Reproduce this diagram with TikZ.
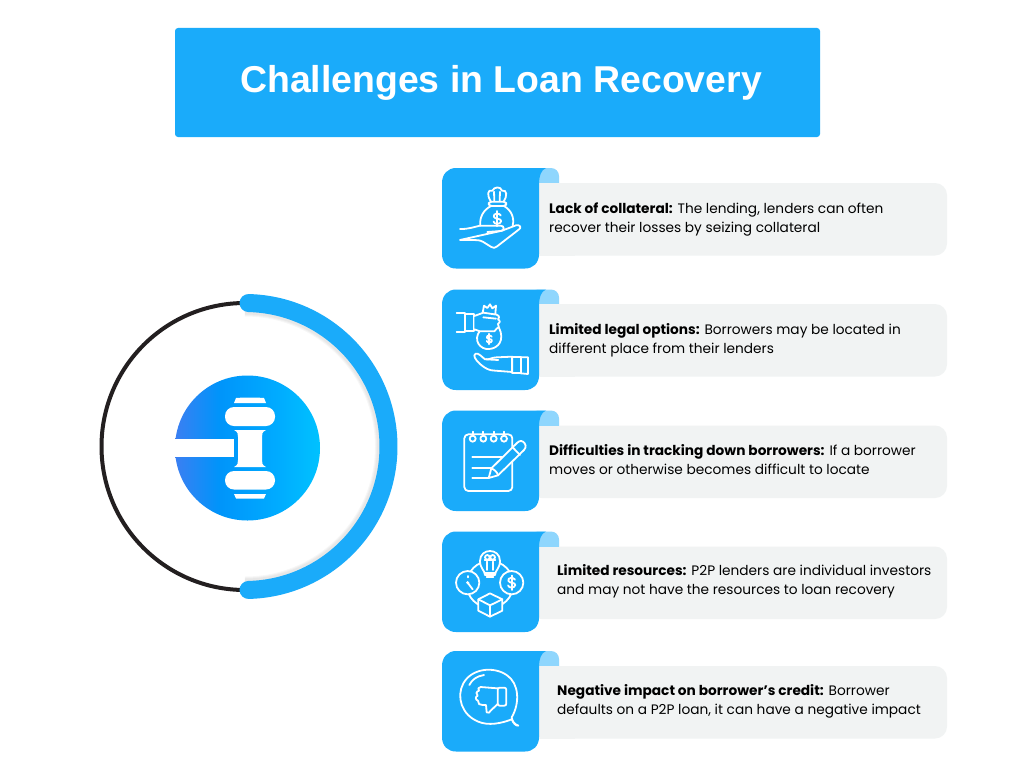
\documentclass[tikz,border=0pt]{standalone}
\usepackage{fontspec}
\setmainfont{Poppins}
\newfontfamily\titlefont{Liberation Sans}
\definecolor{mainblue}{HTML}{1AABFA}
\definecolor{tabblue}{HTML}{8FD6FD}
\definecolor{cardgrey}{HTML}{F1F3F3}
\definecolor{ringblack}{HTML}{231F20}
\definecolor{gradA}{HTML}{3B7FF2}
\definecolor{gradB}{HTML}{0094FA}
\definecolor{gradC}{HTML}{00ABFF}
\definecolor{gradD}{HTML}{00C2FF}
\pgfdeclarehorizontalshading{gavelgrad}{100bp}{
  color(0bp)=(gradA);
  color(25bp)=(gradA);
  color(40bp)=(gradB);
  color(60bp)=(gradC);
  color(75bp)=(gradD);
  color(100bp)=(gradD)
}
\tikzset{
  x=1pt,y=-1pt,
  card text/.style={anchor=west,align=left,inner sep=0pt,text=black,
    font=\fontsize{13.7}{19}\selectfont},
  title text/.style={inner sep=0pt,text=white,font=\titlefont\bfseries\fontsize{37.4}{40}\selectfont},
  icon/.style={draw=white,line width=1.8pt,line cap=round,line join=round},
  iconfill/.style={icon,fill=mainblue},
  iconspace/.style={shift={(430pt,-#1 pt)},x=.33333pt,y=-.33333pt},
}
\newcommand{\cardback}[3]{% name, top of blue, top of grey
  \fill[cardgrey,rounded corners=12pt] (530,#3) rectangle (947,#3+72.5);
  \fill[tabblue,rounded corners=8pt] (530,#2) -- (559,#2) -- (559,#3+8) -- (530,#3+8) -- cycle;
  \fill[cardgrey] (539,#3) rectangle (575,#3+72.5);
  \fill[mainblue] (456,#2) -- (546,#2)
    .. controls (541,#2+2) and (539,#2+8) .. (539,#2+16)
    -- (539,#2+86) .. controls (539,#2+95) and (533,#2+100.5) .. (525,#2+100.5)
    -- (456,#2+100.5) .. controls (448,#2+100.5) and (442,#2+95) .. (442,#2+86)
    -- (442,#2+15) .. controls (442,#2+6) and (448,#2) .. (456,#2) -- cycle;
}
\newcommand{\dollar}[3]{% x y size
  \draw[icon] (#1+#3*.55,#2-#3*.5) .. controls (#1+#3*.4,#2-#3*.95) and (#1-#3*.75,#2-#3*.9) .. (#1-#3*.55,#2-#3*.3)
    .. controls (#1-#3*.4,#2+#3*.15) and (#1+#3*.65,#2-#3*.1) .. (#1+#3*.6,#2+#3*.4)
    .. controls (#1+#3*.5,#2+#3*.95) and (#1-#3*.5,#2+#3*.95) .. (#1-#3*.6,#2+#3*.45);
  \draw[icon] (#1,#2-#3*1.2) -- (#1,#2+#3*1.2);
}
\begin{document}
\begin{tikzpicture}
\useasboundingbox (0,0) rectangle (1024,768);
\fill[white] (0,0) rectangle (1024,768);

% title
\fill[mainblue,rounded corners=3pt] (175,28) rectangle (820,137);
\node[title text] (title) at (501,83) {Challenges in Loan Recovery};

% ring
\foreach \r/\o in {141/.03,140/.03,139/.03}{
  \draw[black,opacity=\o,line width=18pt] (245,446.5-\r) arc[start angle=-90,end angle=90,radius=\r];}
\draw[ringblack,line width=4pt] (245,303) arc[start angle=-90,end angle=-270,radius=143.5];
\draw[mainblue,line width=18pt,line cap=round] (248.5,303.04) arc[start angle=-88.6,end angle=88.6,radius=143.5];

% gavel
\shade[shading=gavelgrad] (247.5,448) circle[radius=72.5];
\fill[white] (174,439) rectangle (234,457);
\fill[white,rounded corners=9pt] (225,407) rectangle (275,426);
\fill[white,rounded corners=9pt] (225,471) rectangle (275,489.5);
\fill[white] (236,398) .. controls (238,397.5) and (262,397.5) .. (264,398) -- (266,403) -- (234,403) -- cycle;
\fill[white] (234,494) -- (266,494) -- (264,498.5) -- (236,498.5) -- cycle;
\fill[white] (234,430) -- (266,430) .. controls (262,432) and (262,434) .. (262,437)
  -- (262,460) .. controls (262,463) and (262,465) .. (266,467) -- (234,467)
  .. controls (238,465) and (238,463) .. (238,460) -- (238,437)
  .. controls (238,434) and (238,432) .. (234,430) -- cycle;

% cards
\cardback{cardA}{168}{183}
\cardback{cardB}{289.5}{304}
\cardback{cardC}{410.5}{425.5}
\cardback{cardD}{531.5}{546.5}
\cardback{cardE}{651}{666}

\node[card text] (textA) at (549,219.5) {\textbf{Lack of collateral:} The lending, lenders can often\\recover their losses by seizing collateral};
\node[card text] (textB) at (549,340) {\textbf{Limited legal options:} Borrowers may be located in\\different place from their lenders};
\node[card text] (textC) at (549,460) {\textbf{Difficulties in tracking down borrowers:} If a borrower\\moves or otherwise becomes difficult to locate};
\node[card text] (textD) at (557,581) {\textbf{Limited resources:} P2P lenders are individual investors\\and may not have the resources to loan recovery};
\node[card text] (textE) at (557,701) {\textbf{Negative impact on borrower's credit:} Borrower\\defaults on a P2P loan, it can have a negative impact};

% icon 1: hand holding money bag
\begin{scope}[iconspace=160]
  \draw[icon] (183,125) .. controls (170,105) and (172,88) .. (187,92)
    .. controls (192,80) and (212,78) .. (216,92)
    .. controls (232,88) and (232,108) .. (221,125);
  \draw[icon] (192,95) -- (193,122) (210,95) -- (209,122);
  \draw[icon,rounded corners=3pt] (176,125) rectangle (229,138);
  \draw[icon] (183,138) .. controls (160,150) and (148,172) .. (151,197);
  \draw[icon] (222,138) .. controls (243,150) and (254,172) .. (248,197);
  \dollar{202}{176}{19}
  \draw[icon] (90,207) .. controls (115,208) and (135,200) .. (150,197) -- (212,197)
     .. controls (224,197) and (224,213) .. (212,213) -- (172,216);
  \draw[icon] (216,212) -- (258,196) .. controls (270,193) and (276,203) .. (266,209)
     -- (200,260) .. controls (195,265) and (190,264) .. (184,261)
     -- (160,246) .. controls (150,240) and (140,240) .. (130,240) -- (90,240) -- cycle;
\end{scope}

% icon 2: fist, coin, open hand
\begin{scope}[iconspace=160]
  \draw[icon] (80,460) -- (105,460) -- (105,515) -- (80,515);
  \draw[icon] (105,463) -- (133,463) -- (133,512) -- (105,512);
  \draw[icon] (150,512) .. controls (128,540) and (150,570) .. (178,567)
     .. controls (205,565) and (225,540) .. (207,503);
  \draw[iconfill] (133,468) -- (160,458) -- (200,464)
    .. controls (210,468) and (208,476) .. (204,478) .. controls (212,482) and (210,490) .. (204,492)
    .. controls (210,498) and (206,506) .. (200,506) .. controls (197,515) and (190,515) .. (185,514)
    -- (150,514) -- (133,508);
  \draw[icon] (158,458) -- (162,437) -- (172,444) -- (180,433) -- (187,445) -- (198,437) -- (196,461);
  \draw[icon] (160,472) -- (198,476);
  \dollar{178}{537}{13}
  \draw[icon] (247,590) -- (200,592) .. controls (185,592) and (178,600) .. (165,598)
     .. controls (155,590) and (145,578) .. (137,581) .. controls (128,586) and (135,598) .. (150,612)
     .. controls (165,625) and (178,632) .. (195,632) -- (247,636) -- cycle;
  \draw[icon] (247,590) -- (272,590) -- (272,640) -- (247,640) -- cycle;
  \draw[icon] (272,592) -- (294,592) (272,640) -- (294,642) (294,592) -- (294,642);
  \draw[icon] (168,598) -- (205,600);
\end{scope}

% icon 3: notepad and pencil
\begin{scope}[iconspace=400]
  \draw[icon,rounded corners=4pt] (103,103) rectangle (247,273);
  \foreach \cx in {128,160,191,222}{
    \draw[iconfill] (\cx,116) circle[radius=9];
    \draw[icon] (\cx,95) -- (\cx,107);}
  \draw[icon] (127,170) -- (225,170) (127,203) -- (192,203) (127,235) -- (176,235);
  \draw[iconfill] (176,234) -- (184,205) -- (262,128)
     .. controls (270,120) and (278,122) .. (284,130)
     .. controls (290,140) and (286,146) .. (282,150) -- (204,226) -- cycle;
  \draw[icon] (184,205) .. controls (192,208) and (202,216) .. (204,226);
  \draw[icon] (248,142) -- (270,165);
\end{scope}

% icon 4: idea, clock, coin, box on a ring
\begin{scope}[iconspace=400]
  \draw[icon] (180,553) circle[radius=70];
  \draw[iconfill] (113,548) circle[radius=35];
  \draw[iconfill] (245,548) circle[radius=35];
  \draw[iconfill] (165,525) .. controls (165,512) and (150,505) .. (150,483)
     .. controls (150,443) and (210,443) .. (210,483)
     .. controls (210,505) and (195,512) .. (195,525) -- cycle;
  \draw[icon] (165,518) -- (195,518) (170,530) -- (190,530);
  \draw[icon] (172,485) -- (172,510) (188,485) -- (188,510);
  \draw[icon] (172,472) circle[radius=7] (188,472) circle[radius=7];
  \draw[icon] (164,480) -- (196,480);
  \draw[icon] (113,548) -- (128,568);
  \fill[white] (113,548) circle[radius=5];
  \draw[icon] (113,528) -- (113,532);
  \dollar{245}{548}{18}
  \draw[iconfill] (180,580) -- (217,598) -- (217,632) -- (180,650) -- (145,632) -- (145,598) -- cycle;
  \draw[icon] (145,598) -- (180,616) -- (217,598) (180,616) -- (180,650);
\end{scope}

% icon 5: thumbs down in a speech bubble
\begin{scope}[iconspace=640]
  \draw[icon] (245,232) .. controls (270,190) and (268,130) .. (230,105)
     .. controls (190,78) and (125,85) .. (100,130)
     .. controls (78,170) and (95,225) .. (145,245)
     .. controls (175,258) and (215,250) .. (245,238)
     .. controls (250,250) and (258,258) .. (265,257)
     .. controls (252,252) and (248,245) .. (245,232) -- cycle;
  \draw[icon] (118,135) .. controls (125,120) and (140,108) .. (162,105);
  \draw[icon,rounded corners=2pt] (203,143) rectangle (229,197);
  \draw[icon] (203,145) -- (152,141) .. controls (145,141) and (142,148) .. (147,152)
     .. controls (138,154) and (137,164) .. (143,167) .. controls (135,170) and (136,180) .. (144,182)
     .. controls (142,190) and (150,197) .. (158,195) -- (168,195) -- (170,217)
     .. controls (175,222) and (180,216) .. (182,212) -- (203,192);
\end{scope}
\end{tikzpicture}
\end{document}
